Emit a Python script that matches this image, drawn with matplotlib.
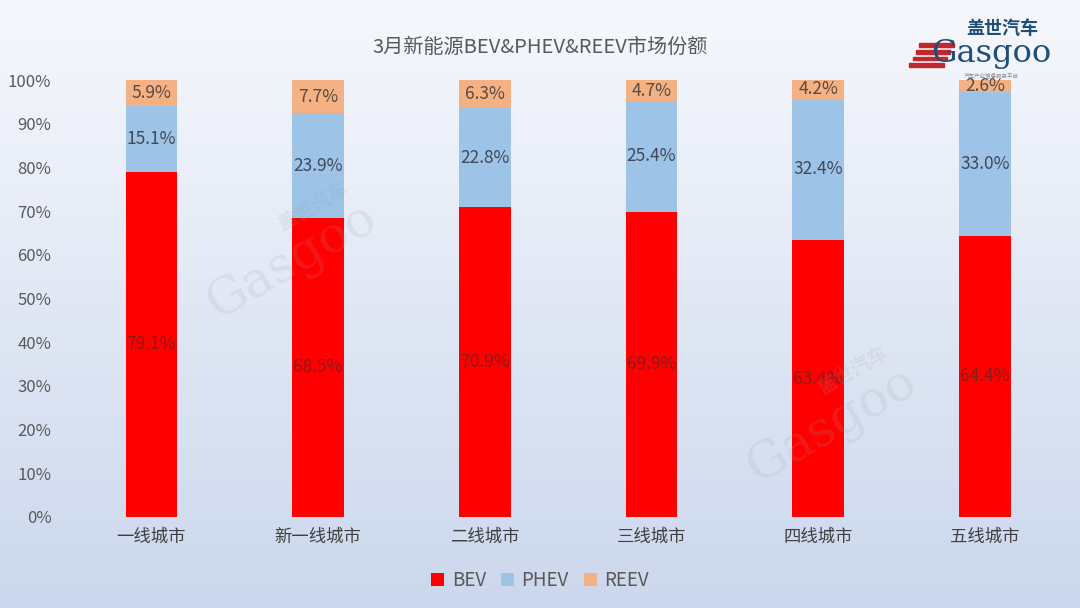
import numpy as np
import matplotlib
matplotlib.use("Agg")
import matplotlib.pyplot as plt
from matplotlib.patches import Rectangle

plt.rcParams['font.family'] = ['Noto Sans CJK SC', 'DejaVu Sans']

categories = ['一线城市', '新一线城市', '二线城市', '三线城市', '四线城市', '五线城市']
bev = [79.1, 68.5, 70.9, 69.9, 63.4, 64.4]
phev = [15.1, 23.9, 22.8, 25.4, 32.4, 33.0]
reev = [5.9, 7.7, 6.3, 4.7, 4.2, 2.6]
series_names = ['BEV', 'PHEV', 'REEV']
yticks = [0, 10, 20, 30, 40, 50, 60, 70, 80, 90, 100]
title = '3月新能源BEV&PHEV&REEV市场份额'

colors = ['#FF0000', '#9DC3E6', '#F4B183']
label_colors = ['#8a1a1a', '#404a5a', '#5a4a40']

fig = plt.figure(figsize=(10.8, 6.08), dpi=100)

# background gradient
bg = fig.add_axes([0, 0, 1, 1], zorder=-10)
grad = np.linspace(0, 1, 256).reshape(-1, 1)
top = np.array([0.965, 0.972, 0.99])
bot = np.array([0.80, 0.845, 0.93])
img = top[None, None, :] * (1 - grad[:, :, None]) + bot[None, None, :] * grad[:, :, None]
bg.imshow(img, aspect='auto', extent=[0, 1, 0, 1], origin='upper')
bg.set_xlim(0, 1); bg.set_ylim(0, 1)
bg.axis('off')

ax = fig.add_axes([0.063, 0.1497, 0.926, 0.7183])
ax.set_facecolor('none')
x = np.arange(len(categories))
w = 0.31
data = [bev, phev, reev]
bottom = np.zeros(len(categories))
for vals, c, lc, name in zip(data, colors, label_colors, series_names):
    vals = np.array(vals)
    ax.bar(x, vals, w, bottom=bottom, color=c, label=name, zorder=3)
    for xi, b, v in zip(x, bottom, vals):
        ax.text(xi, b + v / 2, f'{v:.1f}%', ha='center', va='center',
                fontsize=12.5, color=lc, zorder=4)
    bottom = bottom + vals

ax.set_xlim(-0.5, len(categories) - 0.5)
ax.set_ylim(0, 100)
ax.set_yticks(yticks)
ax.set_yticklabels([f'{t}%' for t in yticks])
ax.set_xticks(x)
ax.set_xticklabels(categories)
ax.tick_params(axis='y', length=0, labelsize=12, labelcolor='#595959', pad=12)
ax.tick_params(axis='x', length=0, labelsize=12.5, labelcolor='#404040', pad=8)
for s in ax.spines.values():
    s.set_visible(False)

fig.text(0.5, 0.922, title, ha='center', va='center', fontsize=14.5, color='#595959')

leg = fig.legend(loc='center', bbox_to_anchor=(0.5, 0.045), ncol=3, frameon=False,
                 fontsize=13.5, handlelength=0.7, handleheight=0.7, handletextpad=0.4,
                 columnspacing=0.8)
for t in leg.get_texts():
    t.set_color('#595959')

# watermarks
for (wx, wy) in [(0.27, 0.57), (0.77, 0.30)]:
    fig.text(wx, wy, 'Gasgoo', fontsize=36, family='DejaVu Serif', color='#9aa0aa',
             alpha=0.16, rotation=30, ha='center', va='center', zorder=5)
    fig.text(wx + 0.02, wy + 0.09, '盖世汽车', fontsize=14, color='#9aa0aa',
             alpha=0.16, rotation=30, ha='center', va='center', zorder=5, weight='bold')

# logo
fig.text(0.928, 0.953, '盖世汽车', fontsize=13, color='#1f4e79', ha='center', va='center',
         weight='bold')
fig.text(0.918, 0.912, 'Gasgoo', fontsize=23, family='DejaVu Serif', color='#1f4e79',
         ha='center', va='center')
for i in range(4):
    fig.patches.append(Rectangle((0.842 + i * 0.003, 0.890 + i * 0.011), 0.032, 0.006,
                                 transform=fig.transFigure, color='#c0282d'))
fig.text(0.918, 0.876, '汽车产业信息服务平台', fontsize=4, color='#8a8a8a', ha='center',
         va='center')

fig.savefig('out.png', dpi=100)
